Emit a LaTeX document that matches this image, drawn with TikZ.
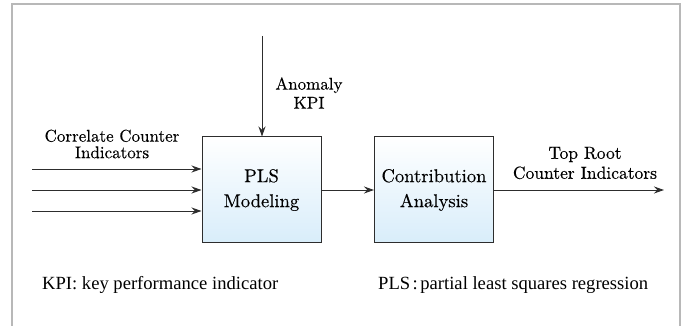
\documentclass[tikz,border=0pt]{standalone}
\usepackage{fontspec}
\newfontfamily\diagfont{lmroman10-regular.otf}[FakeBold=0.3]
\newfontfamily\notefont{Liberation Serif}
\usetikzlibrary{arrows.meta}
\definecolor{framegray}{RGB}{184,184,184}
\definecolor{linegray}{RGB}{45,45,45}
\definecolor{boxblue}{RGB}{216,237,250}
\tikzset{
  procbox/.style={draw=linegray, line width=1pt, minimum width=119pt, minimum height=106pt,
    top color=white, bottom color=boxblue, align=center, inner sep=0pt,
    font=\diagfont\fontsize{18.6}{25}\selectfont},
  flow/.style={draw=linegray, line width=0.9pt, -{Stealth[length=10pt,width=7pt]}},
  lbl/.style={align=center, inner sep=0pt, font=\diagfont\fontsize{17}{19}\selectfont},
  note/.style={anchor=west, inner sep=0pt, font=\notefont\fontsize{18.6}{20}\selectfont}
}
\begin{document}
\begin{tikzpicture}[x=1pt,y=-1pt]
\useasboundingbox (0,0) rectangle (689,326);
% open frame
\draw[framegray, line width=2pt] (12,326) -- (12,4) -- (680,4) -- (680,326);

% processing blocks
\node[procbox] (pls) at (261.5,190) {PLS\\Modeling};
\node[procbox] (contrib) at (434,190) {Contribution\\Analysis};

% anomaly input from above
\coordinate (kpiin) at (262,36);
\draw[flow] (kpiin) -- (pls.north -| kpiin);
\node[lbl] (kpilbl) at (309,93) {Anomaly\\KPI};

% correlated counter inputs
\coordinate (in1) at (32,169);
\coordinate (in2) at (32,190);
\coordinate (in3) at (32,211);
\draw[flow] (in1) -- (pls.west |- in1);
\draw[flow] (in2) -- (pls.west |- in2);
\draw[flow] (in3) -- (pls.west |- in3);
\node[lbl, font=\diagfont\fontsize{17}{16.5}\selectfont] (inlbl) at (112,144) {Correlate Counter\\Indicators};

% block link and output
\draw[flow] (pls.east) -- (contrib.west);
\coordinate (out) at (664,190);
\draw[flow] (contrib.east) -- (out);
\node[lbl, font=\diagfont\fontsize{17.5}{20}\selectfont] (outlbl) at (585,163) {Top Root\\Counter Indicators};

% abbreviations
\node[note] (kpinote) at (42,285) {KPI: key performance indicator};
\node[note] (plsnote) at (378,285) {PLS\hspace{2.5pt}:\hspace{2.5pt}partial least squares regression};
\end{tikzpicture}
\end{document}
